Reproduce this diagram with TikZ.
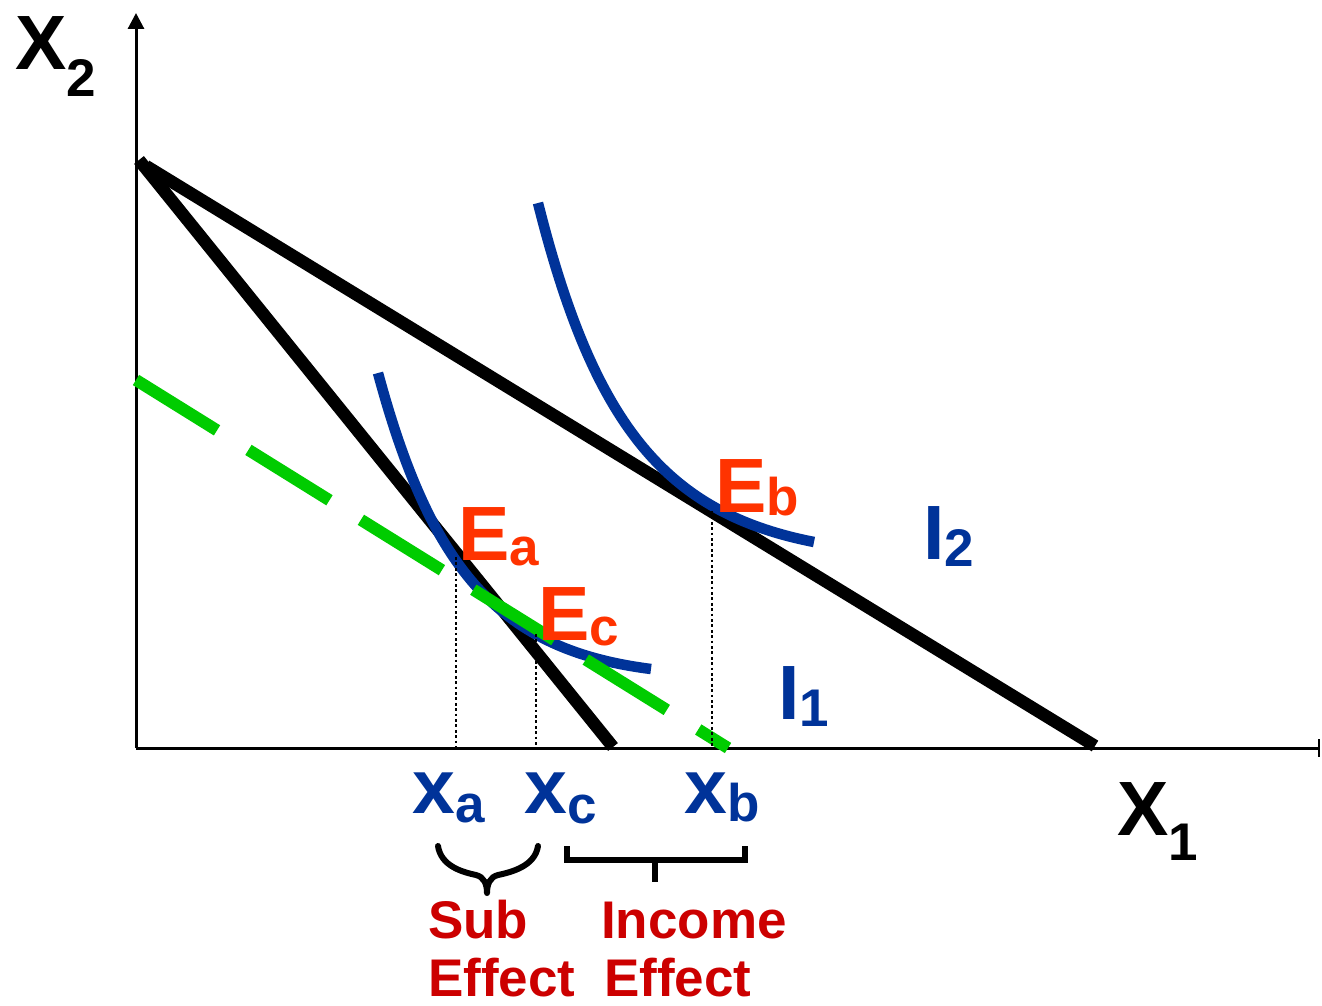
\documentclass[tikz,border=0pt]{standalone}
\usepackage{fontspec}
\setmainfont{Liberation Sans}
\usetikzlibrary{arrows.meta}
\definecolor{cblue}{HTML}{003399}
\definecolor{corange}{HTML}{FF3300}
\definecolor{cred}{HTML}{CC0000}
\definecolor{cgreen}{HTML}{00CC00}
\newcommand{\mylbl}[3]{{\fontsize{77}{77}\selectfont #1}\raisebox{-#3pt}{\fontsize{53}{53}\selectfont #2}}
\tikzset{
  axisline/.style={line width=3pt},
  budget/.style={line width=12.5pt, black},
  indiff/.style={line width=10.5pt, cblue},
  comp/.style={line width=12pt, cgreen, dash pattern=on 95.4pt off 37pt},
  guide/.style={line width=2.8pt, black, dash pattern=on 2.8pt off 2.6pt},
  lab/.style={inner sep=0pt, anchor=base west, font=\bfseries},
  bracketline/.style={line width=6pt, black},
}
\begin{document}
\begin{tikzpicture}[x=1pt,y=-1pt]
\useasboundingbox (0,0) rectangle (1322,1006);
% coordinates
\coordinate (O) at (136,748);
\coordinate (ytop) at (136,13);
\coordinate (xend) at (1320,748);
\coordinate (A1) at (139,160);
\coordinate (A2) at (613,747);
\coordinate (B1) at (146,166);
\coordinate (B2) at (1095,746);
\coordinate (G1) at (136,380);
\coordinate (G2) at (728,748);
\coordinate (Ea) at (456,557);
\coordinate (Ec) at (536,634);
\coordinate (Eb) at (712,511);
\coordinate (Ea0) at (456,748);
\coordinate (Ec0) at (536,748);
\coordinate (Eb0) at (712,748);
% axes
\draw[axisline, -{Triangle[width=16pt,length=16pt]}] (O) -- (ytop);
\draw[axisline, -{Bar[width=18pt,line width=2.5pt]}] (O) -- (xend);
% budget lines
\draw[budget] (A1) -- (A2);
\draw[budget] (B1) -- (B2);
% indifference curves
\draw[indiff] (378,373) .. controls (432,573) and (501,650) .. (651,669);
\draw[indiff] (538,203) .. controls (594,426) and (666,513) .. (814,542);
% compensated budget line
\draw[comp] (G1) -- (G2);
% guides
\draw[guide] (Ea) -- (Ea0);
\draw[guide] (Ec) -- (Ec0);
\draw[guide] (Eb) -- (Eb0);
% axis labels
\node[lab] (X2lab) at (15,70) {\mylbl{X}{2}{27}};
\node[lab] (X1lab) at (1117,835) {\mylbl{X}{1}{25}};
% equilibrium labels
\node[lab, text=corange] (Ealab) at (458,560) {\mylbl{E}{a}{5}};
\node[lab, text=corange] (Eclab) at (538,640) {\mylbl{E}{c}{5}};
\node[lab, text=corange] (Eblab) at (715,512) {\mylbl{E}{b}{3}};
% indifference labels
\node[lab, text=cblue] (I1lab) at (778,719) {\mylbl{I}{1}{7}};
\node[lab, text=cblue] (I2lab) at (923,559) {\mylbl{I}{2}{7}};
% quantity labels
\node[lab, text=cblue] (xalab) at (412,813) {\mylbl{x}{a}{9}};
\node[lab, text=cblue] (xclab) at (524,813) {\mylbl{x}{c}{10}};
\node[lab, text=cblue] (xblab) at (684,813) {\mylbl{x}{b}{8}};
% brace
\draw[bracketline, line cap=round, line join=round]
  (438,846) .. controls (441,866) and (462,872) .. (476,875)
  .. controls (484,877) and (487,884) .. (487,893)
  .. controls (487,884) and (490,877) .. (498,875)
  .. controls (512,872) and (535,866) .. (538,846);
% bracket
\draw[bracketline] (567,846) -- (567,860) -- (745,860) -- (745,846);
\draw[bracketline] (655,860) -- (655,882);
% effect labels
\node[lab, text=cred, font=\bfseries\fontsize{53}{53}\selectfont] (sub1) at (428,938) {Sub};
\node[lab, text=cred, font=\bfseries\fontsize{53}{53}\selectfont] (sub2) at (428,996) {Effect};
\node[lab, text=cred, font=\bfseries\fontsize{53}{53}\selectfont] (inc1) at (601,938) {Income};
\node[lab, text=cred, font=\bfseries\fontsize{53}{53}\selectfont] (inc2) at (604,996) {Effect};
\end{tikzpicture}
\end{document}
